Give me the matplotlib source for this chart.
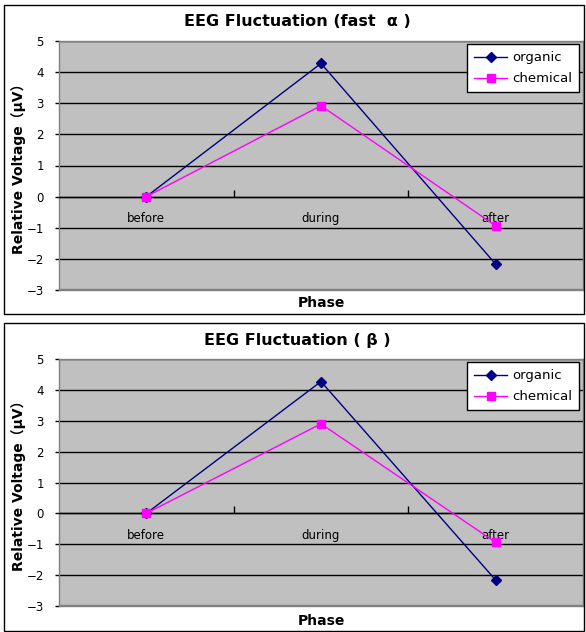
import matplotlib
matplotlib.use("Agg")
import matplotlib.pyplot as plt
from matplotlib.patches import Rectangle

plt.rcParams['font.family'] = ['DejaVu Sans', 'Noto Sans CJK JP']

categories = ["before", "during", "after"]
titles = ["EEG Fluctuation (fast  α )", "EEG Fluctuation ( β )"]
organic_alpha = [0.0, 4.28, -2.17]
chemical_alpha = [0.0, 2.92, -0.94]
organic_beta = [0.0, 4.27, -2.16]
chemical_beta = [0.0, 2.90, -0.94]
yticks = [5, 4, 3, 2, 1, 0, -1, -2, -3]
series_names = ["organic", "chemical"]

W, H = 586, 632
fig = plt.figure(figsize=(W / 100, H / 100), dpi=100)
fig.patch.set_facecolor("white")

panels = [
    dict(frame=(4, 5, 580, 309), plot=(59, 41, 583, 290), title_y=21, xlabel_y=303,
         org=organic_alpha, chem=chemical_alpha, title=titles[0]),
    dict(frame=(4, 323, 580, 308), plot=(59, 359, 583, 606), title_y=340, xlabel_y=621,
         org=organic_beta, chem=chemical_beta, title=titles[1]),
]

def fx(x):
    return x / W

def fy(y):
    return 1 - y / H

for p in panels:
    fxl, fyt, fw, fh = p["frame"]
    fig.patches.append(Rectangle((fx(fxl), fy(fyt + fh)), fw / W, fh / H,
                                 transform=fig.transFigure, fill=False,
                                 edgecolor="black", linewidth=1.0, zorder=0))
    l, t, r, b = p["plot"]
    ax = fig.add_axes([fx(l), fy(b), (r - l) / W, (b - t) / H])
    ax.set_facecolor("#C0C0C0")
    ax.set_xlim(-0.5, 2.5)
    ax.set_ylim(-3, 5)
    for v in yticks:
        ax.axhline(v, color="black", linewidth=1.0, zorder=1)
    xs = range(len(categories))
    ax.plot(xs, p["org"], color="#000080", marker="D", markersize=5, linewidth=1.0,
            label=series_names[0], zorder=3)
    ax.plot(xs, p["chem"], color="#FF00FF", marker="s", markersize=5.5, linewidth=1.0,
            label=series_names[1], zorder=3)

    for s in ["top", "right", "left"]:
        ax.spines[s].set_color("#808080")
        ax.spines[s].set_linewidth(1.0)
    ax.spines["bottom"].set_position(("data", 0))
    ax.spines["bottom"].set_color("black")
    ax.spines["bottom"].set_linewidth(1.0)
    ax.add_patch(Rectangle((0, 0), 1, 0.004, transform=ax.transAxes, color="#808080",
                           zorder=4, clip_on=False))

    ax.set_yticks(yticks)
    ax.set_yticklabels([str(v).replace("-", "−") for v in yticks], fontsize=8.5)
    ax.tick_params(axis="y", length=3, width=1, color="black", pad=8)
    ax.set_xticks(list(xs))
    ax.set_xticklabels(categories, fontsize=8.5)
    ax.tick_params(axis="x", which="major", length=0, pad=11)
    ax.set_xticks([0.5, 1.5], minor=True)
    ax.tick_params(axis="x", which="minor", length=5, direction="in", width=1, color="black")

    leg = ax.legend(loc="upper right", bbox_to_anchor=(0.9925, 0.988), borderaxespad=0,
                    fontsize=9.5, frameon=True, fancybox=False, edgecolor="black",
                    framealpha=1, borderpad=0.55, handlelength=2.5, handletextpad=0.35,
                    labelspacing=0.6)
    leg.get_frame().set_linewidth(1.0)

    fig.text(fx(297), fy(p["title_y"]), p["title"], ha="center", va="center",
             fontsize=11.5, fontweight="bold")
    fig.text(fx(321), fy(p["xlabel_y"]), "Phase", ha="center", va="center",
             fontsize=10, fontweight="bold")
    fig.text(fx(19), fy((t + b) / 2), "Relative Voltage（μV）", ha="center", va="center",
             rotation=90, fontsize=10, fontweight="bold")

fig.savefig("out.png", dpi=100, facecolor="white")
